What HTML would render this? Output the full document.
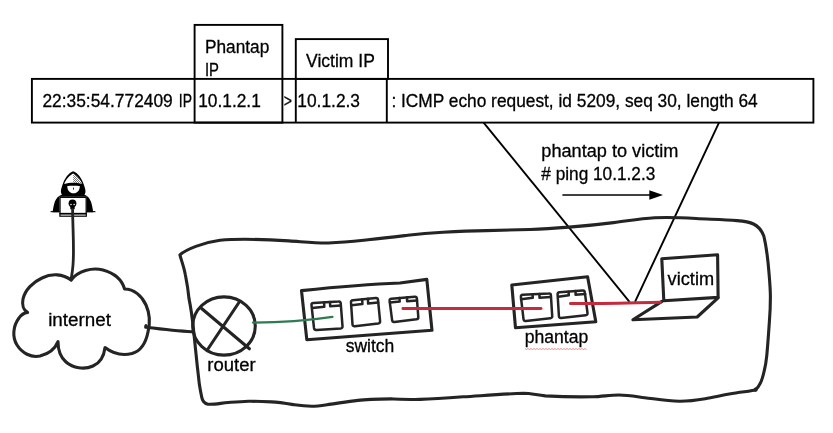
<!DOCTYPE html>
<html>
<head>
<meta charset="utf-8">
<title>phantap diagram</title>
<style>
html,body{margin:0;padding:0;background:#fff;}
body{width:833px;height:433px;overflow:hidden;position:relative;}
svg{position:absolute;left:0;top:0;display:block;}
text{font-family:"Liberation Sans",sans-serif;fill:#000;stroke:#000;stroke-width:0.3px;}
.ink{fill:none;stroke:#242424;stroke-width:3.1;stroke-linecap:round;stroke-linejoin:round;}
.thin{fill:none;stroke:#000;stroke-width:1.9;}
.port path{stroke-width:2.5;}
</style>
</head>
<body>
<svg width="833" height="433" viewBox="0 0 833 433">
<rect x="0" y="0" width="833" height="433" fill="#fff"/>

<!-- top packet table -->
<g class="thin">
<rect x="31.9" y="78.9" width="781.5" height="43.7"/>
<rect x="194.6" y="24.9" width="87.8" height="97.7"/>
<rect x="295.8" y="39.1" width="92.2" height="39.8"/>
<line x1="295.8" y1="78.9" x2="295.8" y2="122.6"/>
<line x1="386.8" y1="78.9" x2="386.8" y2="122.6"/>
<line x1="483.6" y1="122.6" x2="629.5" y2="301.8"/>
<line x1="719" y1="122.6" x2="635" y2="301.8"/>
</g>

<g font-size="18.3" style="filter:grayscale(1)">
<text x="42.4" y="106.9" textLength="130.4" lengthAdjust="spacingAndGlyphs">22:35:54.772409</text>
<text x="178.8" y="106.9" textLength="13.2" lengthAdjust="spacingAndGlyphs">IP</text>
<text x="198.2" y="106.9" textLength="62.6" lengthAdjust="spacingAndGlyphs">10.1.2.1</text>
<text x="283.8" y="106.9" textLength="8.2" lengthAdjust="spacingAndGlyphs">&gt;</text>
<text x="297.3" y="106.9" textLength="62.7" lengthAdjust="spacingAndGlyphs">10.1.2.3</text>
<text x="391.4" y="106.9" textLength="366.3" lengthAdjust="spacingAndGlyphs">: ICMP echo request, id 5209, seq 30, length 64</text>
<text x="205" y="53" textLength="64.3" lengthAdjust="spacingAndGlyphs">Phantap</text>
<text x="205" y="76.1" textLength="14" lengthAdjust="spacingAndGlyphs">IP</text>
<text x="306.1" y="66.9" textLength="68.8" lengthAdjust="spacingAndGlyphs">Victim IP</text>
<text x="541.3" y="156.5" textLength="137.2" lengthAdjust="spacingAndGlyphs">phantap to victim</text>
<text x="541.3" y="179.8" textLength="114" lengthAdjust="spacingAndGlyphs"># ping 10.1.2.3</text>
<text x="48.2" y="326" textLength="62.8" lengthAdjust="spacingAndGlyphs">internet</text>
<text x="207.3" y="370.7" textLength="48.3" lengthAdjust="spacingAndGlyphs">router</text>
<text x="345.7" y="352" textLength="48.6" lengthAdjust="spacingAndGlyphs">switch</text>
<text x="524.7" y="343.2" textLength="63.5" lengthAdjust="spacingAndGlyphs">phantap</text>
<text x="667.6" y="285.2" textLength="46.5" lengthAdjust="spacingAndGlyphs">victim</text>
</g>

<!-- arrow -->
<line x1="562.4" y1="195" x2="652" y2="195" stroke="#000" stroke-width="1.7"/>
<path d="M649.3 190.3 L663 195 L649.3 199.7 Z" fill="#000"/>

<!-- cloud -->
<path class="ink" d="M71.1 280 C78 271 92 267 103 270 C114 273 122 280 124.6 289 C134 289 142 296 146 305 C150 314 150 324 148 332 C146 342 141 351 132 353.6 C122 356 112 353 105 347.6 C104 356 100 363 93 366 C84 370 73 368 66 362 C60 357 58 349 58 341.6 C55 349 48 354 40 356 C31 358 22 353 17 345 C12 337 13 326 19 318 C21 315 24 313 27.6 312.4 C23 310 22 304 23 299 C25 290 33 282 42 278 C52 273 63 274 71.1 280 Z"/>
<!-- hacker stem -->
<!-- cloud to router -->
<path class="ink" d="M145.6 327.3 C160 329 178 331 191.8 331.8"/>

<circle cx="146" cy="325.6" r="1.6" fill="#242424"/>
<!-- router -->
<ellipse class="ink" cx="224" cy="326" rx="31.3" ry="29.1"/>
<path class="ink" d="M201.6 308.5 L249.4 348.8 M239.6 301.5 L207.6 349.5"/>

<!-- big box -->
<path class="ink" d="M179.9 254.9 C186 249.5 203 242.5 220 240.3 C240 238.4 268 239.6 288.9 240.9 C305 242 320 243.5 328.5 243 C345 242 355 241 368 239.8 C385 238 395 236.8 407.7 235.3 C422 233.6 433 232.8 443 232.2 C460 231.3 475 230.8 486 230.6 C505 230.2 518 229.8 530 229.5 C548 229 560 227.9 572 226.9 C590 225.5 600 224.3 613.5 222.6 C630 220.5 640 218.5 654.7 217.7 C670 217 685 217.8 696 218.5 C712 219.3 725 219.6 737 220.6 C745 221.2 750 222.2 753.5 224 C759 226.8 762 231 763.8 236 C766 245 767.8 258 769 272.8 C769.8 282 770.4 290 770.4 297 C770.4 306 770 314 769.4 321.4 C768.6 333 767.8 345 766.8 355.3 C766 363 765.2 367 764.3 370.5 C763.2 375.5 762 380 760.2 383.4 C758.8 386.4 757.3 388.6 755.4 389.9 C750 390.9 745 391.6 739.8 392.3 C728 394 716 396.8 705.2 398.7 C696 400.3 688 401.3 679.3 401.2 C667 400.8 656 399 644.7 397.7 C635 396.4 627 395 618.8 395 C610 395 602 396.6 592.9 396.8 C577 397.1 561 396.8 545.3 395.9 C537 395.2 531 393.3 523.7 393.3 C503 394 483 395.6 463.2 396.8 C448 397.9 434 398.9 420 399.4 C410 399.6 400 399.2 391.3 398.9 C380 399.1 366 399.5 357.9 400.4 C347 401.7 338 403.2 329 404.4 C322 405.4 317 406.2 311.8 406.2 C305 406.2 300 405.6 294.5 404.8 C286 403.4 279 402.2 271.5 401.9 C263 401.5 256 401.2 248.4 401.3 C241 401.5 235 402 228.2 402.5 C220 403.3 213 404.8 208 404.2 C204.5 403.5 202.8 401.5 201.9 398 C200.6 392 199.9 388 199.4 384.6 C198.6 378 198 372 197.4 367.3 C196.4 358 195 345 193.4 328.7 C192 315 190.5 306 189 298.6 C188 288 186.4 280 185.4 275 C184 267 181.5 261 179.9 254.9 Z"/>

<circle cx="755.6" cy="389.7" r="2.1" fill="#242424"/>

<!-- switch -->
<path class="ink" d="M301.5 290.6 Q360 284.5 400 283 L426.8 279.4 L432 330.3 L306.8 339.7 Z"/>
<g class="ink port">
<path d="M313.3 303 Q311.2 303.2 311.5 305.2 L314 328 Q314.3 330.1 316.6 329.9 L340.6 328.4 Q342.7 328.2 342.5 326.2 L340.7 303.2 Q340.5 301.2 338.5 301.4 Z"/>
<path d="M312.2 307.9 L324.3 306.7 L324.1 302.2 M330 301.9 L330.2 306.3 L340.8 305.4"/>
<path d="M353 300.3 Q350.8 300.5 351 302.5 L352.5 324.3 Q352.7 326.5 354.8 326.2 L378.2 323.4 Q380.3 323.1 380.1 321.1 L378 299.8 Q377.8 297.8 375.8 298 Z"/>
<path d="M351.5 305.3 L362.4 304.1 L362.2 299.3 M368 298.8 L368.1 303.6 L378.2 302.5"/>
<path d="M391.5 298.7 Q389.4 298.9 389.6 300.9 L392.1 320.2 Q392.4 322.2 394.5 321.9 L416.4 319.3 Q418.5 319 418.3 317 L416.9 298.6 Q416.7 296.6 414.7 296.8 Z"/>
<path d="M390 302.6 L399.7 301.6 L399.5 298 M407 297.3 L407.1 301.2 L417 300.4"/>
</g>

<!-- phantap -->
<path class="ink" d="M511.8 285 L587.6 276.8 L595.8 321.8 L515.5 327.8 Z"/>
<g class="ink port">
<path d="M522.8 294.7 Q520.7 294.9 520.9 296.9 L523.5 319.1 Q523.8 321.2 525.9 321 L550.3 318.2 Q552.4 318 552.2 316 L550.9 295.2 Q550.8 293.2 548.8 293.4 Z"/>
<path d="M521 299.3 L532.8 297.8 L532.6 294.6 M539.4 294 L539.5 297.8 L550.9 297"/>
<path d="M559.6 292.3 Q557.5 292.5 557.6 294.5 L558.9 316 Q559 318.1 561.1 317.9 L585.7 315.2 Q587.8 315 587.5 313 L584.8 292.2 Q584.6 290.2 582.6 290.4 Z"/>
<path d="M558.3 296.7 L568.8 295.2 L568.6 291.8 M575.5 291 L575.6 294.8 L585.2 294"/>
</g>

<!-- laptop -->
<path class="ink" d="M661.8 258.8 L717.6 254.8 L718.1 297.4 L663.8 300.8 Z"/>
<path class="ink" d="M662 301.4 L632.9 319.8 L697.2 317 L718.1 297.8"/>

<!-- wires -->
<path d="M253 322.6 C275 322.6 305 321 332.4 316.9" fill="none" stroke="#2f7a50" stroke-width="2.3" stroke-linecap="round"/>
<path d="M403 308.5 C440 308.9 500 308.2 541 308.4" fill="none" stroke="#c52b3d" stroke-width="3" stroke-linecap="round"/>
<path d="M570.5 303.6 C600 303.8 630 302.8 660.3 302.2" fill="none" stroke="#c52b3d" stroke-width="3" stroke-linecap="round"/>

<!-- spelling squiggle -->
<path d="M525 348.5 l1.5 1 l1.5 -1 l1.5 1 l1.5 -1 l1.5 1 l1.5 -1 l1.5 1 l1.5 -1 l1.5 1 l1.5 -1 l1.5 1 l1.5 -1 l1.5 1 l1.5 -1 l1.5 1 l1.5 -1 l1.5 1 l1.5 -1 l1.5 1 l1.5 -1 l1.5 1 l1.5 -1 l1.5 1 l1.5 -1 l1.5 1 l1.5 -1 l1.5 1 l1.5 -1 l1.5 1 l1.5 -1 l1.5 1 l1.5 -1 l1.5 1 l1.5 -1 l1.5 1 l1.5 -1 l1.5 1 l1.5 -1 l1.5 1 l1.5 -1 l1.5 1" fill="none" stroke="#e06060" stroke-width="0.7"/>

<!-- hacker icon -->
<g id="hacker">
<defs><clipPath id="hoodclip"><path d="M73.2 173.6 C76.5 175.2 80.6 179.6 82.3 184 C79.5 183.1 76 182.8 73.2 182.8 Z"/></clipPath></defs>
<path d="M73.2 171.2 C68.8 172.6 64.6 178.4 62.6 184.4 C61.4 187.8 60.6 190.4 61 192.4 C61.2 193.4 61.6 194 62 194.4 C58.6 195.6 56 198.2 54.8 201.8 C53.6 205.6 53 209 52.6 212.2 L59.4 212.2 L59.4 196.7 L86.8 196.7 L86.8 212.2 L93.2 212.2 C92.8 209 92.2 205.6 91 201.8 C89.8 198.2 87.4 195.6 84.4 194.4 C84.8 194 85.2 193.4 85.4 192.4 C85.8 190.4 85 187.8 83.8 184.4 C81.8 178.4 77.6 172.6 73.2 171.2 Z" fill="#000"/>
<path d="M73.2 173.6 C69.8 175.2 65.8 179.6 64.2 184 C67 183.1 70.4 182.8 73.2 182.8 C76 182.8 79.5 183.1 82.3 184 C80.6 179.6 76.5 175.2 73.2 173.6 Z" fill="#fff"/>
<g clip-path="url(#hoodclip)" stroke="#000" stroke-width="0.55" fill="none">
<path d="M72 172 L84 184 M73.5 171.5 L85.5 183.5 M75 171 L87 183 M70.5 172.5 L82.5 184.5 M69 173 L81 185 M67.5 173.5 L79.5 185.5 M66 174 L78 186 M64.5 174.5 L76.5 186.5"/>
</g>
<path d="M67.3 186 C69.6 185.5 77.4 185.5 79.8 186 C79.8 190.2 77.4 193.3 73.5 193.3 C69.6 193.3 67.3 190.2 67.3 186 Z" fill="#fff"/>
<rect x="73.2" y="187.6" width="0.8" height="2" fill="#000"/>
<rect x="60" y="197.3" width="26.2" height="16.2" fill="#fff" stroke="#000" stroke-width="1.3"/>
<rect x="59.9" y="214" width="26.4" height="2.2" fill="#fff" stroke="#000" stroke-width="1.2"/>
<rect x="50.6" y="211.1" width="9" height="1.1" fill="#000"/>
<rect x="86.6" y="211.1" width="8.8" height="1.1" fill="#000"/>
<circle cx="72.5" cy="203.3" r="3.9" fill="#000"/>
<rect x="70.3" y="204.8" width="4.4" height="4.8" rx="1" fill="#000"/>
<circle cx="71" cy="204.6" r="0.75" fill="#fff"/>
<circle cx="74.1" cy="204.6" r="0.75" fill="#fff"/>
</g>
<!-- hacker stem -->
<path class="ink" d="M72.6 209.5 C72.8 230 74.3 250 73 265 C72.5 272 71.5 276 71.1 280" style="stroke-width:2.8"/>
</svg>
</body>
</html>
